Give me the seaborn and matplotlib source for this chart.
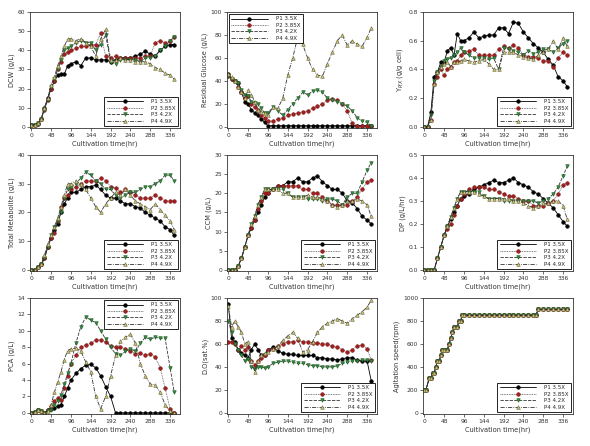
import numpy as np
import pandas as pd
import matplotlib
matplotlib.use("Agg")
import matplotlib.pyplot as plt
import seaborn as sns
from matplotlib.lines import Line2D

sns.set_style("ticks")
plt.rcParams['font.family'] = ['DejaVu Sans']

T = [0, 8, 16, 24, 32, 40, 48, 56, 64, 72, 80, 88, 96, 108, 120, 132, 144, 156, 168,
     180, 192, 204, 216, 228, 240, 252, 264, 276, 288, 300, 312, 324, 336, 346]
series_names = ["P1 3.5X", "P2 3.85X", "P3 4.2X", "P4 4.9X"]
x_ticks = [0, 48, 96, 144, 192, 240, 288, 336]

dcw_p1 = [1, 1, 1.5, 4, 10, 15, 20, 24, 27, 27.5, 27.5, 32, 33, 34, 32, 36, 36, 35, 35, 35, 34, 35, 36, 36, 36, 37, 38, 39.5, 38, 37, 40, 42, 43, 43]
dcw_p2 = [1, 1, 2, 4, 9, 14, 20, 24, 30, 34, 38, 39, 40, 41, 42, 42, 43, 43, 49, 37, 36, 37, 36, 36, 36, 36, 36, 37, 37, 44, 45, 44, 45, 47]
dcw_p3 = [1, 1, 2, 4, 9, 14, 21, 25, 30, 35, 40, 41, 42, 44, 45, 44, 44, 40, 43, 48, 34, 33, 35, 35, 35, 35, 34, 36, 36, 37, 40, 42, 45, 47]
dcw_p4 = [1, 1, 2, 4, 10, 15, 22, 26, 32, 37, 42, 46, 46, 45, 46, 44, 42, 37, 46, 51, 35, 35, 36, 35, 35, 34, 34, 34, 33, 31, 30, 28, 27, 25]

glc_p1 = [46, 42, 40, 38, 30, 22, 20, 15, 12, 10, 7, 4, 1, 1, 1, 1, 1, 1, 1, 1, 1, 1, 1, 1, 1, 1, 1, 1, 1, 1, 1, 1, 1, 1]
glc_p2 = [44, 42, 40, 35, 30, 25, 27, 20, 17, 15, 10, 8, 5, 5, 7, 8, 10, 11, 12, 13, 14, 16, 18, 20, 23, 24, 23, 20, 14, 3, 1, 1, 1, 1]
glc_p3 = [44, 42, 40, 38, 32, 28, 27, 22, 21, 20, 16, 12, 12, 17, 14, 10, 15, 20, 25, 30, 28, 31, 32, 30, 25, 23, 22, 20, 18, 14, 8, 5, 4, 1]
glc_p4 = [46, 43, 40, 35, 30, 25, 32, 28, 22, 15, 13, 12, 10, 17, 16, 25, 45, 60, 78, 72, 60, 50, 45, 44, 55, 65, 75, 80, 71, 75, 72, 70, 78, 86]

ypx_p1 = [0, 0, 0.1, 0.35, 0.38, 0.45, 0.45, 0.53, 0.55, 0.5, 0.65, 0.6, 0.6, 0.62, 0.66, 0.62, 0.63, 0.64, 0.64, 0.69, 0.69, 0.65, 0.73, 0.72, 0.66, 0.62, 0.58, 0.55, 0.52, 0.47, 0.43, 0.35, 0.32, 0.28]
ypx_p2 = [0, 0, 0.05, 0.3, 0.35, 0.4, 0.36, 0.4, 0.42, 0.45, 0.46, 0.5, 0.52, 0.53, 0.54, 0.5, 0.5, 0.5, 0.5, 0.54, 0.56, 0.55, 0.57, 0.55, 0.5, 0.49, 0.49, 0.48, 0.46, 0.46, 0.42, 0.48, 0.52, 0.5]
ypx_p3 = [0, 0, 0.08, 0.32, 0.38, 0.42, 0.46, 0.47, 0.48, 0.5, 0.52, 0.55, 0.52, 0.5, 0.48, 0.48, 0.48, 0.47, 0.48, 0.4, 0.55, 0.54, 0.53, 0.52, 0.5, 0.53, 0.51, 0.52, 0.54, 0.54, 0.52, 0.55, 0.58, 0.6]
ypx_p4 = [0, 0, 0.05, 0.3, 0.38, 0.42, 0.44, 0.45, 0.42, 0.45, 0.45, 0.46, 0.47, 0.46, 0.45, 0.46, 0.47, 0.44, 0.4, 0.4, 0.52, 0.52, 0.52, 0.5, 0.49, 0.48, 0.47, 0.5, 0.52, 0.54, 0.6, 0.54, 0.62, 0.56]

tm_p1 = [0, 0, 1, 2, 4, 8, 11, 14, 16, 20, 23, 25, 27, 27, 28, 29, 29, 29.5, 28, 26, 25, 25, 24, 23, 23, 22, 21.5, 20, 19, 18, 17, 15, 14, 12]
tm_p2 = [0, 0, 1, 2, 4, 8, 11, 13, 17, 22, 25, 26, 28, 29, 30, 31, 31, 31, 32, 31, 29, 28.5, 27, 28, 27, 26, 25, 25, 25, 26, 25, 24, 24, 24]
tm_p3 = [0, 0, 1, 2, 4, 8, 12, 15, 17, 20, 25, 28, 29, 30, 32, 34, 33, 31, 30, 28, 28, 26, 25, 26, 27, 27, 28, 29, 29, 30, 31, 33, 33, 31]
tm_p4 = [0, 0, 1, 2, 5, 9, 12, 15, 18, 22, 26, 30, 30, 31, 30, 28, 25, 22, 20, 23, 25, 27, 26, 28, 26, 24, 23, 22, 21, 23, 21, 19, 17, 14]

ccm_p1 = [0, 0, 0, 1, 3, 6, 9, 11, 13, 15, 17, 19, 20, 21, 22, 22, 23, 23, 24, 23, 23, 24, 24.5, 23, 22, 21, 21, 20, 18, 17.5, 16, 14, 13, 12]
ccm_p2 = [0, 0, 0, 1, 3, 6, 9, 11, 13, 16, 18, 20, 20, 21, 22, 22, 22, 22, 22, 21, 21, 20, 20, 19, 18, 17, 17, 17, 17, 18, 19, 21, 23, 23.5]
ccm_p3 = [0, 0, 0, 1, 3, 6, 9, 12, 14, 17, 19, 21, 21, 21, 21, 21, 20, 19, 19, 19, 18.5, 18.5, 18.5, 18, 18.5, 18.5, 18, 17, 19, 20, 20, 23, 26, 28]
ccm_p4 = [0, 0, 0, 1, 3, 6, 9, 12, 14, 17, 19, 21, 21, 21, 21, 20, 20, 19, 19, 19, 19.5, 19, 19, 18.5, 18, 17, 16.5, 17, 18, 18, 18.5, 18, 17, 14]

dp_p1 = [0, 0, 0, 0, 0.05, 0.1, 0.15, 0.19, 0.22, 0.25, 0.28, 0.31, 0.32, 0.33, 0.35, 0.36, 0.37, 0.38, 0.39, 0.38, 0.38, 0.39, 0.4, 0.38, 0.37, 0.36, 0.34, 0.33, 0.31, 0.29, 0.27, 0.24, 0.21, 0.19]
dp_p2 = [0, 0, 0, 0, 0.05, 0.1, 0.15, 0.18, 0.2, 0.24, 0.28, 0.31, 0.33, 0.35, 0.36, 0.36, 0.36, 0.35, 0.35, 0.34, 0.33, 0.32, 0.32, 0.31, 0.3, 0.3, 0.28, 0.28, 0.28, 0.29, 0.3, 0.33, 0.37, 0.38]
dp_p3 = [0, 0, 0, 0, 0.05, 0.1, 0.15, 0.19, 0.23, 0.27, 0.31, 0.34, 0.34, 0.34, 0.34, 0.34, 0.32, 0.31, 0.31, 0.31, 0.3, 0.3, 0.3, 0.3, 0.3, 0.3, 0.3, 0.29, 0.3, 0.31, 0.33, 0.36, 0.41, 0.45]
dp_p4 = [0, 0, 0, 0, 0.05, 0.1, 0.15, 0.19, 0.23, 0.27, 0.31, 0.34, 0.34, 0.34, 0.34, 0.33, 0.32, 0.31, 0.31, 0.31, 0.31, 0.31, 0.3, 0.3, 0.29, 0.28, 0.27, 0.28, 0.29, 0.29, 0.3, 0.3, 0.28, 0.22]

pca_p1 = [0, 0.1, 0.3, 0.2, 0, 0.3, 0.5, 0.6, 0.8, 1.0, 2.0, 3, 4, 4.8, 5.4, 5.8, 5.9, 5.5, 4.5, 3.2, 2, 0, 0, 0, 0, 0, 0, 0, 0, 0, 0, 0, 0, 0]
pca_p2 = [0, 0.1, 0.3, 0.2, 0, 0.4, 0.8, 1.5, 1.8, 1.6, 3, 4.5, 6, 7, 8, 8.3, 8.5, 8.9, 8.9, 8.6, 8.2, 8, 8, 7.8, 7.5, 7.2, 7.3, 7, 7.2, 6.8, 5.5, 3, 0.5, 0]
pca_p3 = [0, 0.1, 0.3, 0.2, 0, 0.2, 0.4, 1, 1.5, 2.2, 3.5, 4.8, 6, 8.5, 10.5, 11.7, 11.3, 11, 10, 9, 8, 7.2, 7, 7.5, 7.8, 7.5, 8.5, 9.2, 9, 9.2, 9.1, 9.1, 5.5, 2.5]
pca_p4 = [0, 0.1, 0.3, 0.2, 0, 0.2, 1, 2.5, 3.8, 5, 6.5, 7.6, 7.8, 7.9, 7.5, 6.2, 5, 2, 0.5, 2, 4.5, 7, 8.7, 9.2, 9.6, 8.5, 6, 4.5, 3.5, 3.4, 2.5, 1, 0.2, 0]

do_p1 = [95, 65, 62, 55, 52, 50, 48, 55, 60, 55, 50, 50, 55, 57, 54, 52, 51, 51, 50, 50, 50, 50, 48, 48, 47, 47, 46, 47, 48, 48, 46, 45, 45, 28]
do_p2 = [62, 62, 60, 55, 58, 55, 57, 45, 42, 45, 48, 50, 55, 56, 58, 60, 62, 62, 63, 62, 62, 61, 61, 60, 60, 58, 57, 55, 53, 55, 58, 59, 56, 46]
do_p3 = [80, 70, 60, 55, 50, 45, 47, 40, 38, 40, 40, 39, 40, 43, 44, 45, 45, 44, 43, 43, 42, 41, 41, 40, 40, 40, 41, 43, 44, 45, 45, 46, 46, 45]
do_p4 = [93, 75, 80, 75, 70, 60, 62, 45, 36, 45, 50, 52, 53, 56, 58, 63, 67, 70, 65, 53, 55, 62, 70, 75, 78, 80, 82, 80, 78, 82, 85, 88, 92, 98]

TA = [0, 4, 12, 16, 20, 24, 28, 32, 36, 40, 44, 48, 56, 60, 64, 68, 72, 80, 84, 88, 92, 96, 108, 120,
      132, 144, 156, 168, 180, 192, 204, 216, 228, 240, 252, 264, 270, 276, 288, 300, 312, 324, 336, 346]
rpm = [200, 200, 300, 300, 350, 350, 400, 450, 450, 500, 550, 550, 550, 600, 650, 700, 750, 750, 800, 800, 850, 850, 850, 850,
       850, 850, 850, 850, 850, 850, 850, 850, 850, 850, 850, 850, 850, 900, 900, 900, 900, 900, 900, 900]

panels = [
    ("DCW (g/L)", T, [dcw_p1, dcw_p2, dcw_p3, dcw_p4], 60, np.arange(0, 61, 10), "lower right", "%d"),
    ("Residual Glucose (g/L)", T, [glc_p1, glc_p2, glc_p3, glc_p4], 100, np.arange(0, 101, 20), "upper left", "%d"),
    ("Y$_{P/X}$ (g/g cell)", T, [ypx_p1, ypx_p2, ypx_p3, ypx_p4], 0.8, np.arange(0, 0.81, 0.2), "lower right", "%.1f"),
    ("Total Metabolite (g/L)", T, [tm_p1, tm_p2, tm_p3, tm_p4], 40, np.arange(0, 41, 10), "lower right", "%d"),
    ("CCM (g/L)", T, [ccm_p1, ccm_p2, ccm_p3, ccm_p4], 30, np.arange(0, 31, 5), "lower right", "%d"),
    ("DP (g/L/hr)", T, [dp_p1, dp_p2, dp_p3, dp_p4], 0.5, np.arange(0, 0.51, 0.1), "lower right", "%.1f"),
    ("PCA (g/L)", T, [pca_p1, pca_p2, pca_p3, pca_p4], 14, np.arange(0, 15, 2), "upper right", "%d"),
    ("D.O(sat.%)", T, [do_p1, do_p2, do_p3, do_p4], 100, np.arange(0, 101, 20), "lower right", "%d"),
    ("Agitation speed(rpm)", TA, [rpm, rpm, rpm, rpm], 1000, np.arange(0, 1001, 200), "lower right", "%d"),
]

styles = [
    dict(marker="o", mfc="black", mec="black", ls="-"),
    dict(marker="o", mfc="#a3201e", mec="#7a1010", ls=(0, (1, 1))),
    dict(marker="v", mfc="#2f8a3a", mec="#1f5a25", ls=(0, (4, 1.5))),
    dict(marker="^", mfc="#c9c07a", mec="#6b6838", ls=(0, (5, 1.5, 1, 1.5))),
]
line_colors = ["black", "#555555", "#333333", "#333333"]

fig = plt.figure(figsize=(5.9, 4.46), dpi=100)
lefts = [30 / 590, 227 / 590, 423 / 590]
bottoms = [1 - 128 / 446, 1 - 271 / 446, 1 - 414 / 446]
w = 150 / 590
h = 116 / 446

fs = 4.3
for i, (ylabel, tt, ys, ymax, yt, loc, fmt) in enumerate(panels):
    r, c = divmod(i, 3)
    ax = fig.add_axes([lefts[c], bottoms[r], w, h])
    handles = []
    for k, y in enumerate(ys):
        st = styles[k]
        sns.lineplot(x=tt, y=y, ax=ax, color=line_colors[k], linewidth=0.6,
                     linestyle=st["ls"], marker=st["marker"], markersize=2.6,
                     markerfacecolor=st["mfc"], markeredgecolor=st["mec"],
                     markeredgewidth=0.4, estimator=None, sort=False)
        handles.append(Line2D([], [], color=line_colors[k], lw=0.6, linestyle=st["ls"],
                              marker=st["marker"], markersize=2.6, markerfacecolor=st["mfc"],
                              markeredgecolor=st["mec"], markeredgewidth=0.4))
    ax.set_xlim(-3, 360)
    ax.set_ylim(-ymax * 0.01, ymax)
    ax.set_xticks(x_ticks)
    ax.set_yticks(yt)
    ax.set_yticklabels([fmt % v for v in yt])
    ax.tick_params(labelsize=fs, length=2, width=0.5, pad=1.5, colors="#333333")
    for sp in ax.spines.values():
        sp.set_linewidth(0.6)
        sp.set_color("#333333")
    ax.set_xlabel("Cultivation time(hr)", fontsize=4.8, labelpad=2, color="#333333")
    ax.set_ylabel(ylabel, fontsize=4.8, labelpad=2, color="#333333")
    leg = ax.legend(handles, series_names, loc=loc, fontsize=4.0, frameon=True,
                    fancybox=False, edgecolor="black", framealpha=1, handlelength=6.5,
                    borderpad=0.5, labelspacing=0.25, handletextpad=1.5,
                    borderaxespad=0.3)
    leg.get_frame().set_linewidth(0.6)

fig.savefig("out.png", dpi=100)
